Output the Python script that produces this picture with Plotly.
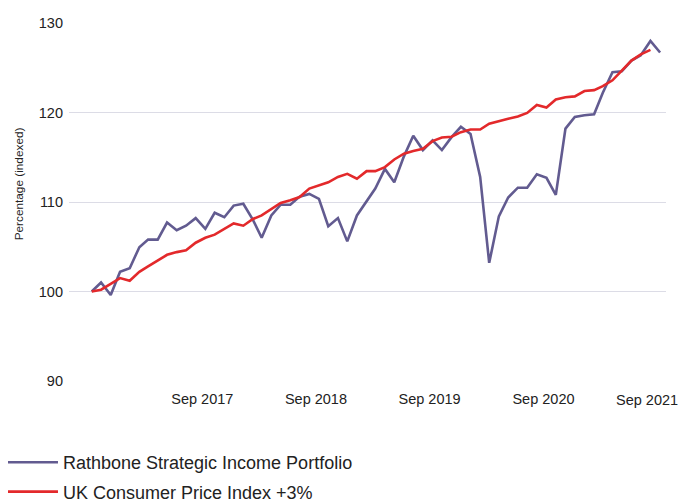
import pandas as pd
import plotly.graph_objects as go

# Monthly observations, Sep 2016 – Sep 2021
months = pd.date_range("2016-09-01", periods=61, freq="MS")

portfolio = [
    100.0, 101.0, 99.6, 102.2, 102.6, 104.95, 105.8, 105.8, 107.7, 106.85,
    107.35, 108.2, 107.0, 108.8, 108.3, 109.6, 109.8, 108.0, 106.0, 108.5,
    109.7, 109.7, 110.6, 110.9, 110.35, 107.3, 108.2, 105.6, 108.5, 110.1,
    111.5, 113.7, 112.2, 115.1, 117.4, 115.8, 116.9, 115.8, 117.25, 118.4,
    117.6, 112.8, 103.2, 108.4, 110.5, 111.6, 111.6, 113.1, 112.7, 110.8,
    118.2, 119.5, 119.7, 119.8, 122.2, 124.5, 124.6, 125.8, 126.4, 128.0,
    126.7,
]

cpi_plus3 = [
    100.0, 100.2, 100.85, 101.5, 101.2, 102.2, 102.8, 103.45, 104.1, 104.4,
    104.6, 105.45, 106.0, 106.35, 107.0, 107.6, 107.35, 108.1, 108.5, 109.25,
    109.9, 110.2, 110.55, 111.5, 111.85, 112.2, 112.8, 113.15, 112.6, 113.45,
    113.45, 113.9, 114.75, 115.4, 115.7, 115.95, 116.8, 117.2, 117.3, 117.8,
    118.1, 118.1, 118.75, 119.05, 119.3, 119.55, 119.95, 120.85, 120.55, 121.45,
    121.7, 121.8, 122.4, 122.5, 122.95, 123.6, 124.65, 125.8, 126.5, 127.0,
]

tick_dates = ["2017-09-01", "2018-09-01", "2019-09-01", "2020-09-01", "2021-09-01"]
tick_labels = ["Sep 2017", "Sep 2018", "Sep 2019", "Sep 2020", "Sep 2021"]
y_ticks = [90, 100, 110, 120, 130]

series_names = ["Rathbone Strategic Income Portfolio", "UK Consumer Price Index +3%"]

PURPLE = "#625b90"
RED = "#e3292b"
TEXT = "#222222"
GRID = "#dcdce6"
FONT = "Liberation Sans, Arial, sans-serif"

fig = go.Figure()
fig.add_trace(go.Scatter(
    x=months, y=portfolio, mode="lines", name=series_names[0],
    line=dict(color=PURPLE, width=2.6), legendgroup="a",
))
fig.add_trace(go.Scatter(
    x=months[:len(cpi_plus3)], y=cpi_plus3, mode="lines", name=series_names[1],
    line=dict(color=RED, width=2.6), legendgroup="b",
))

# Last tick label is pulled inside the chart edge (as in the reference),
# so it is drawn as an annotation anchored at its tick date.
axis_ticktext = tick_labels[:-1] + [""]

# The page body adds an 8px offset, so the figure is 8px smaller in each direction.
fig.update_layout(
    width=680, height=495,
    margin=dict(l=61, r=22, t=15, b=122, autoexpand=False),
    paper_bgcolor="white", plot_bgcolor="white",
    font=dict(family=FONT, color=TEXT, size=15),
    showlegend=True,
    legend=dict(
        x=-0.1156, xanchor="left", y=-0.176, yanchor="top",
        orientation="v", itemwidth=53, tracegroupgap=3,
        font=dict(family=FONT, size=18, color=TEXT),
        bgcolor="rgba(0,0,0,0)",
    ),
    xaxis=dict(
        type="date", range=["2016-06-20", "2021-09-20"],
        tickvals=tick_dates, ticktext=axis_ticktext,
        showgrid=False, zeroline=False, showline=False, ticks="",
        tickfont=dict(family=FONT, size=14.5, color=TEXT),
        ticklabelstandoff=7, ticklabelshift=-3, ticklabeloverflow="allow",
    ),
    yaxis=dict(
        range=[90, 130], tickvals=y_ticks,
        showgrid=True, gridcolor=GRID, gridwidth=1.2,
        zeroline=False, showline=False, ticks="",
        tickfont=dict(family=FONT, size=14.5, color=TEXT),
        ticklabelstandoff=5,
    ),
    annotations=[
        dict(
            text="Percentage (indexed)", textangle=-90,
            xref="paper", yref="paper", x=-0.0838, y=0.552,
            xanchor="center", yanchor="middle", showarrow=False,
            font=dict(family=FONT, size=11.8, color=TEXT),
        ),
        dict(
            text=tick_labels[-1],
            xref="x", yref="paper", x=tick_dates[-1], y=0,
            xanchor="right", yanchor="middle", xshift=20, yshift=-19,
            showarrow=False,
            font=dict(family=FONT, size=14.5, color=TEXT),
        ),
    ],
)

fig.write_html("out.html")
